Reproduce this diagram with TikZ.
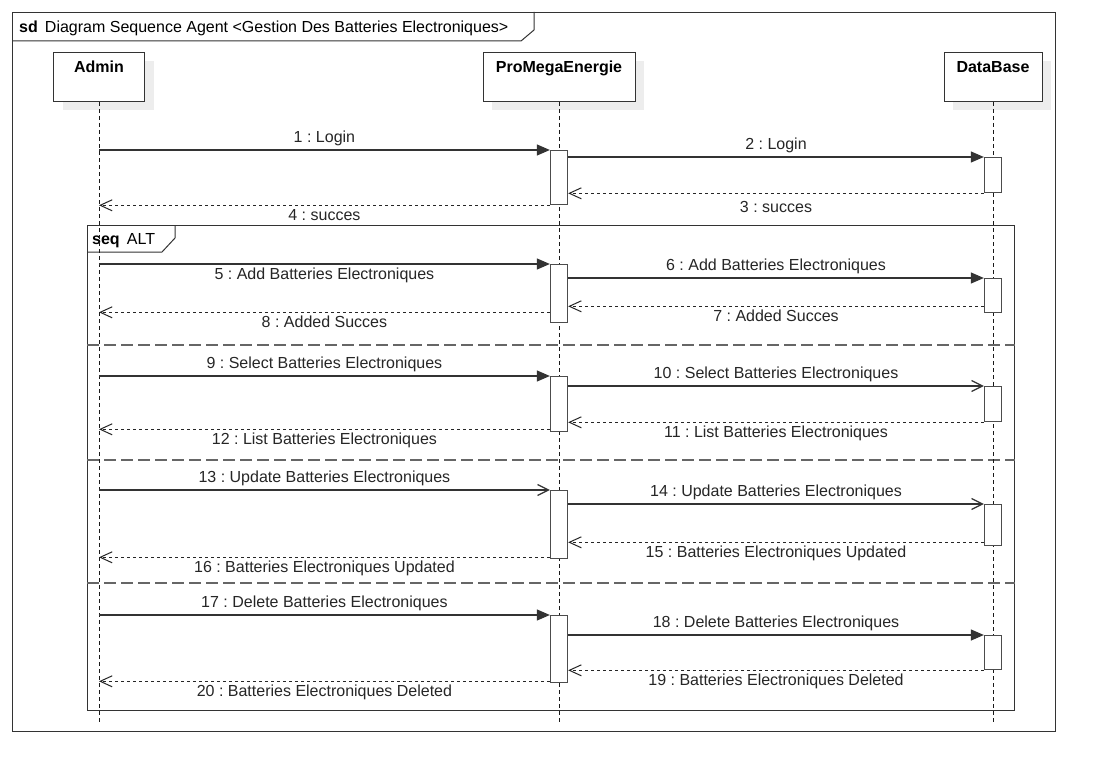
\documentclass[tikz,border=0pt]{standalone}
\usepackage{fontspec}
\setmainfont{Liberation Sans}
\frenchspacing
\usetikzlibrary{arrows.meta,shadows}
\tikzset{
  head/.style={draw=black!80,fill=white,line width=1pt,font=\fontsize{16}{19}\selectfont\bfseries,inner sep=0pt,
    text height=20.5pt,text depth=28.5pt,anchor=north,
    drop shadow={shadow xshift=9pt,shadow yshift=-9pt,fill=black!7,opacity=1}},
  act/.style={draw=black!70,fill=white,line width=1.3pt,minimum width=17pt,inner sep=0pt,anchor=north},
  frame/.style={draw=black!80,line width=1pt,inner sep=0pt,anchor=north west},
  life/.style={black!90,line width=1pt,dash pattern=on 4pt off 3pt},
  sepline/.style={black!60,line width=1.4pt,dash pattern=on 12pt off 5pt},
  call/.style={black!80,line width=1.2pt,-{Triangle[length=13pt,width=11pt]}},
  async/.style={black!80,line width=1.2pt,-{Straight Barb[length=11pt,width=11pt]}},
  reply/.style={black!85,line width=1pt,dash pattern=on 3pt off 3pt,
    -{Straight Barb[length=12pt,width=11pt]}},
  msg/.style={text=black!85}
}
\begin{document}
\begin{tikzpicture}[x=1pt,y=-1pt,font=\fontsize{16}{19}\selectfont]
    \useasboundingbox[fill=white] (0,0) rectangle (1105,781);
    %% Frames
    \node[frame,minimum width=1043pt,minimum height=719pt] (sd) at (12,12) {};
    \draw[black!80,line width=1pt] (sd.north west) ++(0,29) -- ++(509,0) -- ++(13,-11) -- ++(0,-18);
    \node[anchor=base west,inner sep=0pt] (sdname) at (19,33) {\textbf{sd}\ \,Diagram Sequence Agent <Gestion Des Batteries Electroniques>};
    \node[frame,minimum width=927pt,minimum height=485pt] (alt) at (87,225) {};
    \draw[black!80,line width=1pt] (alt.north west) ++(0,27) -- ++(75,0) -- ++(13,-14) -- ++(0,-13);
    \node[anchor=base west,inner sep=0pt] (altname) at (92,244) {\textbf{seq}\ \,ALT};
    \draw[sepline] (alt.west |- 0,345) -- (alt.east |- 0,345);
    \draw[sepline] (alt.west |- 0,460) -- (alt.east |- 0,460);
    \draw[sepline] (alt.west |- 0,583) -- (alt.east |- 0,583);
    %% Lifelines
    \node[head,minimum width=91pt] (A) at (99,52) {Admin};
    \node[head,minimum width=152pt] (P) at (559,52) {ProMegaEnergie};
    \node[head,minimum width=98pt] (D) at (993,52) {DataBase};
    \coordinate (bot) at (0,722);
    \draw[life] (A.south) -- (A.south |- bot);
    \draw[life] (P.south) -- (P.south |- bot);
    \draw[life] (D.south) -- (D.south |- bot);
    %% Activations
    \node[act,minimum height=54pt] (P1) at (559,150) {};
    \node[act,minimum height=35pt] (D1) at (993,157) {};
    \node[act,minimum height=58pt] (P2) at (559,264) {};
    \node[act,minimum height=34pt] (D2) at (993,278) {};
    \node[act,minimum height=55pt] (P3) at (559,376) {};
    \node[act,minimum height=35pt] (D3) at (993,386) {};
    \node[act,minimum height=68pt] (P4) at (559,490) {};
    \node[act,minimum height=41pt] (D4) at (993,504) {};
    \node[act,minimum height=67pt] (P5) at (559,615) {};
    \node[act,minimum height=34pt] (D5) at (993,635) {};
    \coordinate (r7) at ([yshift=7pt]D2.south west);
    \coordinate (r8) at ([yshift=11pt]P2.south west);
    \coordinate (r12) at ([yshift=3pt]P3.south west);
    \coordinate (r15) at ([yshift=4pt]D4.south west);
    \coordinate (r16) at ([yshift=2pt]P4.south west);
    \coordinate (r20) at ([yshift=2pt]P5.south west);
    %% Login
    \draw[call] (A |- P1.north) -- (P1.north west) node[msg,midway,above] (l1) {1 : Login};
    \draw[call] (P1.east |- D1.north) -- (D1.north west) node[msg,midway,above] (l2) {2 : Login};
    \draw[reply] (D1.south west) -- (P1.east |- D1.south) node[msg,midway,below,inner sep=8pt] (l3) {3 : succes};
    \draw[reply] (P1.south west) -- (A |- P1.south) node[msg,midway,below] (l4) {4 : succes};
    %% Add
    \draw[call] (A |- P2.north) -- (P2.north west) node[msg,midway,below,inner sep=3pt] (l5) {5 : Add Batteries Electroniques};
    \draw[call] (P2.east |- D2.north) -- (D2.north west) node[msg,midway,above] (l6) {6 : Add Batteries Electroniques};
    \draw[reply] (r7) -- (P2.east |- r7) node[msg,midway,below] (l7) {7 : Added Succes};
    \draw[reply] (r8) -- (A |- r8) node[msg,midway,below] (l8) {8 : Added Succes};
    %% Select
    \draw[call] (A |- P3.north) -- (P3.north west) node[msg,midway,above] (l9) {9 : Select Batteries Electroniques};
    \draw[async] (P3.east |- D3.north) -- (D3.north west) node[msg,midway,above] (l10) {10 : Select Batteries Electroniques};
    \draw[reply] (D3.south west) -- (P3.east |- D3.south) node[msg,midway,below] (l11) {11 : List Batteries Electroniques};
    \draw[reply] (r12) -- (A |- r12) node[msg,midway,below] (l12) {12 : List Batteries Electroniques};
    %% Update
    \draw[async] (A |- P4.north) -- (P4.north west) node[msg,midway,above] (l13) {13 : Update Batteries Electroniques};
    \draw[async] (P4.east |- D4.north) -- (D4.north west) node[msg,midway,above] (l14) {14 : Update Batteries Electroniques};
    \draw[reply] (r15) -- (P4.east |- r15) node[msg,midway,below] (l15) {15 : Batteries Electroniques Updated};
    \draw[reply] (r16) -- (A |- r16) node[msg,midway,below] (l16) {16 : Batteries Electroniques Updated};
    %% Delete
    \draw[call] (A |- P5.north) -- (P5.north west) node[msg,midway,above] (l17) {17 : Delete Batteries Electroniques};
    \draw[call] (P5.east |- D5.north) -- (D5.north west) node[msg,midway,above] (l18) {18 : Delete Batteries Electroniques};
    \draw[reply] (D5.south west) -- (P5.east |- D5.south) node[msg,midway,below] (l19) {19 : Batteries Electroniques Deleted};
    \draw[reply] (r20) -- (A |- r20) node[msg,midway,below] (l20) {20 : Batteries Electroniques Deleted};
\end{tikzpicture}
\end{document}
